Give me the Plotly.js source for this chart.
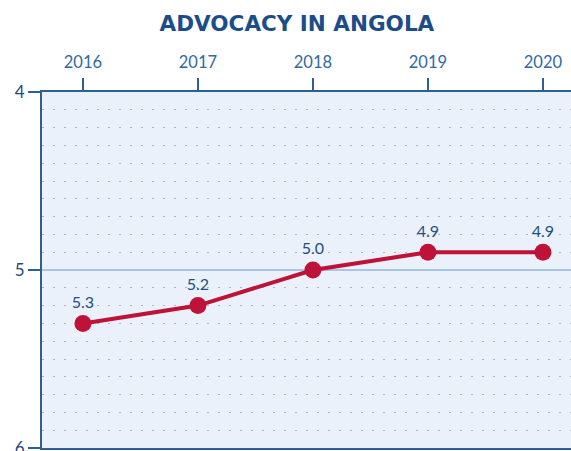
<!DOCTYPE html>
<html>
<head>
<meta charset="utf-8">
<script src="https://cdn.plot.ly/plotly-3.0.1.min.js"></script>
<style>
  html, body { margin: 0; padding: 0; background: #fff; }
  #chart { width: 571px; height: 451px; }
</style>
</head>
<body>
<div id="chart"></div>
<script>
// data
const years = [2016, 2017, 2018, 2019, 2020];
const scores = [5.3, 5.2, 5.0, 4.9, 4.9];
const yTickVals = [4, 5, 6];
const yTickText = ['4', '5', '6'];

const navy = '#1b4d8a';
const axisBlue = '#2d5f91';
const red = '#be1238';

const trace = {
    x: years,
    y: scores,
    type: 'scatter',
    mode: 'lines+markers+text',
    text: scores.map(v => v.toFixed(1)),
    textposition: 'top center',
    textfont: { family: 'Lato, sans-serif', size: 16, color: '#234f80' },
    line: { color: red, width: 4 },
    marker: { color: red, size: 17 },
    cliponaxis: false,
    hoverinfo: 'x+y'
};

const layout = {
    width: 571,
    height: 451,
    margin: { l: 42, r: 0, t: 92, b: 3 },
    paper_bgcolor: '#ffffff',
    plot_bgcolor: '#eaf1fa',
    showlegend: false,
    title: {
        text: '<b>ADVOCACY IN ANGOLA</b>',
        font: { family: 'DejaVu Sans, sans-serif', size: 21.5, color: navy },
        x: 0.52,
        xanchor: 'center',
        y: 0.947,
        yanchor: 'middle'
    },
    xaxis: {
        side: 'top',
        range: [2015.644, 2020.244],
        tickmode: 'array',
        tickvals: years,
        ticktext: years.map(String),
        ticks: 'outside',
        ticklen: 12,
        tickwidth: 2,
        tickcolor: axisBlue,
        ticklabelstandoff: 3,
        tickfont: { family: 'Lato, sans-serif', size: 16.5, color: '#2f6aa0' },
        showline: true,
        linecolor: axisBlue,
        linewidth: 2,
        mirror: true,
        showgrid: false,
        zeroline: false
    },
    yaxis: {
        range: [6, 4],
        tickmode: 'array',
        tickvals: yTickVals,
        ticktext: yTickText,
        ticks: 'outside',
        ticklen: 12,
        tickwidth: 2,
        tickcolor: axisBlue,
        ticklabeloverflow: 'allow',
        tickfont: { family: 'Lato, sans-serif', size: 17, color: '#1f4a7c' },
        showline: true,
        linecolor: axisBlue,
        linewidth: 2,
        showgrid: true,
        gridcolor: '#a9c6e6',
        gridwidth: 2,
        zeroline: false,
        minor: {
            dtick: 0.1,
            showgrid: true,
            gridcolor: '#a8b6c8',
            gridwidth: 1,
            griddash: '1.5px,9.5px',
            ticks: ''
        }
    }
};

Plotly.newPlot('chart', [trace], layout, { displayModeBar: false, staticPlot: true });
</script>
</body>
</html>
